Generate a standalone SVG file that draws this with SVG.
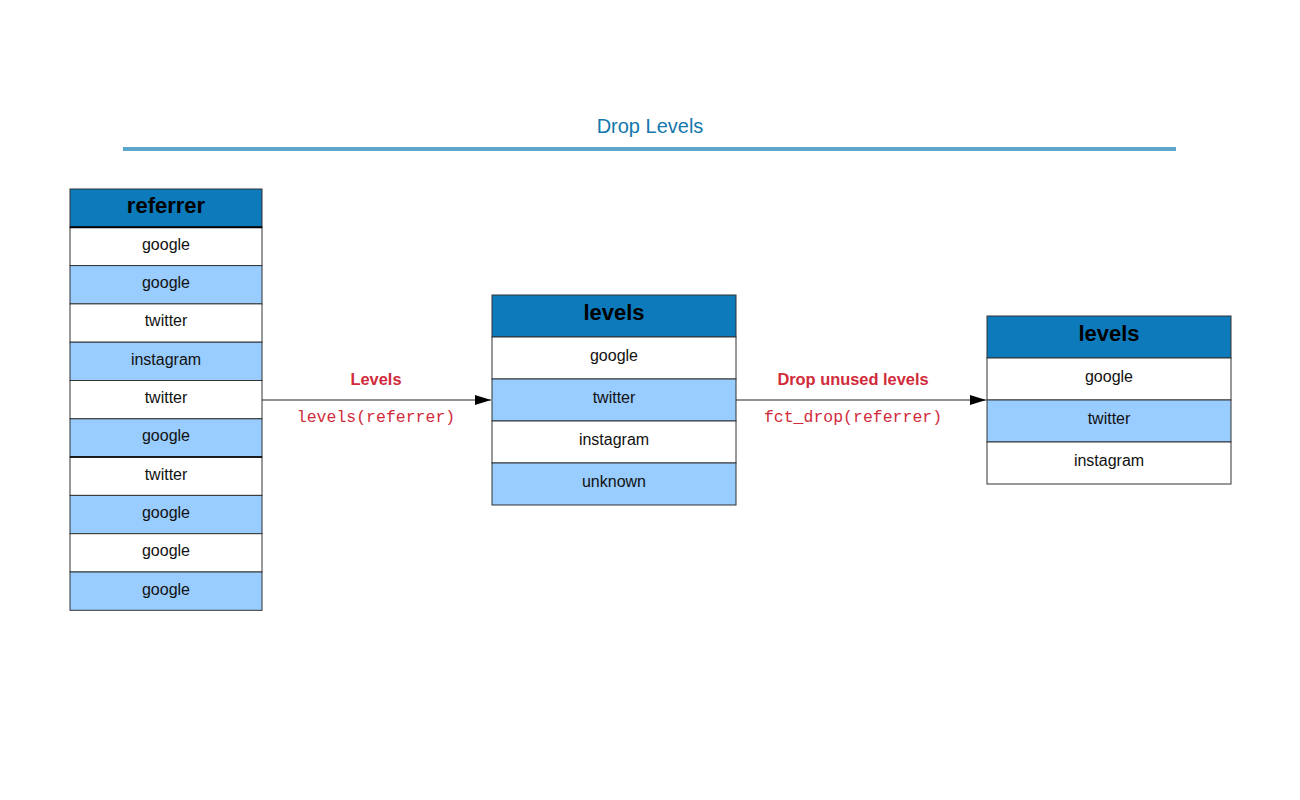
<svg xmlns="http://www.w3.org/2000/svg" width="1300" height="800" viewBox="0 0 1300 800">
<defs>
<marker id="arr" markerWidth="16" markerHeight="10" refX="16" refY="5" orient="auto" markerUnits="userSpaceOnUse">
<path d="M0,0 L16,5 L0,10 Z" fill="#000"/>
</marker>
<style>
.hd{fill:#0c7abb;stroke:#333;stroke-width:1}
.w{fill:#fff;stroke:#333;stroke-width:1}
.b{fill:#99ccff;stroke:#333;stroke-width:1}
.ht{font-family:"Liberation Sans",Arial,sans-serif;font-weight:bold;font-size:22px;fill:#000;text-anchor:middle}
.ct{font-family:"Liberation Sans",Arial,sans-serif;font-size:16px;fill:#111;text-anchor:middle}
.lb{font-family:"Liberation Sans",Arial,sans-serif;font-weight:bold;font-size:16.4px;fill:#d12b3b;text-anchor:middle}
.code{font-family:"Liberation Mono","Courier New",monospace;font-size:16.5px;fill:#d12b3b;text-anchor:middle}
.conn{stroke:#222;stroke-width:1;fill:none}
</style>
</defs>
<rect width="1300" height="800" fill="#fff"/>
<g id="title">
<text x="650" y="133" font-family="Liberation Sans,Arial,sans-serif" font-size="20" fill="#1378ad" text-anchor="middle">Drop Levels</text>
<rect x="123" y="147" width="1053" height="4" fill="#5ea7cc"/>
</g>
<g id="table-referrer">
<rect class="hd" x="70" y="189" width="192" height="38.3"/>
<text class="ht" x="166" y="213">referrer</text>
<rect class="w" x="70" y="227.3" width="192" height="38.3"/><text class="ct" x="166" y="250">google</text>
<rect class="b" x="70" y="265.6" width="192" height="38.3"/><text class="ct" x="166" y="288">google</text>
<rect class="w" x="70" y="303.9" width="192" height="38.3"/><text class="ct" x="166" y="326">twitter</text>
<rect class="b" x="70" y="342.2" width="192" height="38.3"/><text class="ct" x="166" y="365">instagram</text>
<rect class="w" x="70" y="380.5" width="192" height="38.3"/><text class="ct" x="166" y="403">twitter</text>
<rect class="b" x="70" y="418.8" width="192" height="38.3"/><text class="ct" x="166" y="441">google</text>
<rect class="w" x="70" y="457.1" width="192" height="38.3"/><text class="ct" x="166" y="480">twitter</text>
<rect class="b" x="70" y="495.4" width="192" height="38.3"/><text class="ct" x="166" y="518">google</text>
<rect class="w" x="70" y="533.7" width="192" height="38.3"/><text class="ct" x="166" y="556">google</text>
<rect class="b" x="70" y="572" width="192" height="38.3"/><text class="ct" x="166" y="595">google</text>
<line x1="70" y1="227.3" x2="262" y2="227.3" stroke="#000" stroke-width="2"/>
<line x1="70" y1="457.1" x2="262" y2="457.1" stroke="#000" stroke-width="1.5"/>
</g>
<g id="table-levels">
<rect class="hd" x="492" y="295" width="244" height="42"/>
<text class="ht" x="614" y="320">levels</text>
<rect class="w" x="492" y="337" width="244" height="42"/><text class="ct" x="614" y="361">google</text>
<rect class="b" x="492" y="379" width="244" height="42"/><text class="ct" x="614" y="403">twitter</text>
<rect class="w" x="492" y="421" width="244" height="42"/><text class="ct" x="614" y="445">instagram</text>
<rect class="b" x="492" y="463" width="244" height="42"/><text class="ct" x="614" y="487">unknown</text>
</g>
<g id="table-dropped">
<rect class="hd" x="987" y="316" width="244" height="42"/>
<text class="ht" x="1109" y="341">levels</text>
<rect class="w" x="987" y="358" width="244" height="42"/><text class="ct" x="1109" y="382">google</text>
<rect class="b" x="987" y="400" width="244" height="42"/><text class="ct" x="1109" y="424">twitter</text>
<rect class="w" x="987" y="442" width="244" height="42"/><text class="ct" x="1109" y="466">instagram</text>
</g>
<g id="connectors">
<line class="conn" x1="262" y1="400" x2="491" y2="400" marker-end="url(#arr)"/>
<text class="lb" x="376" y="385">Levels</text>
<text class="code" x="376" y="422">levels(referrer)</text>
<line class="conn" x1="736" y1="400" x2="986" y2="400" marker-end="url(#arr)"/>
<text class="lb" x="853" y="385">Drop unused levels</text>
<text class="code" x="853" y="422">fct_drop(referrer)</text>
</g>
</svg>
